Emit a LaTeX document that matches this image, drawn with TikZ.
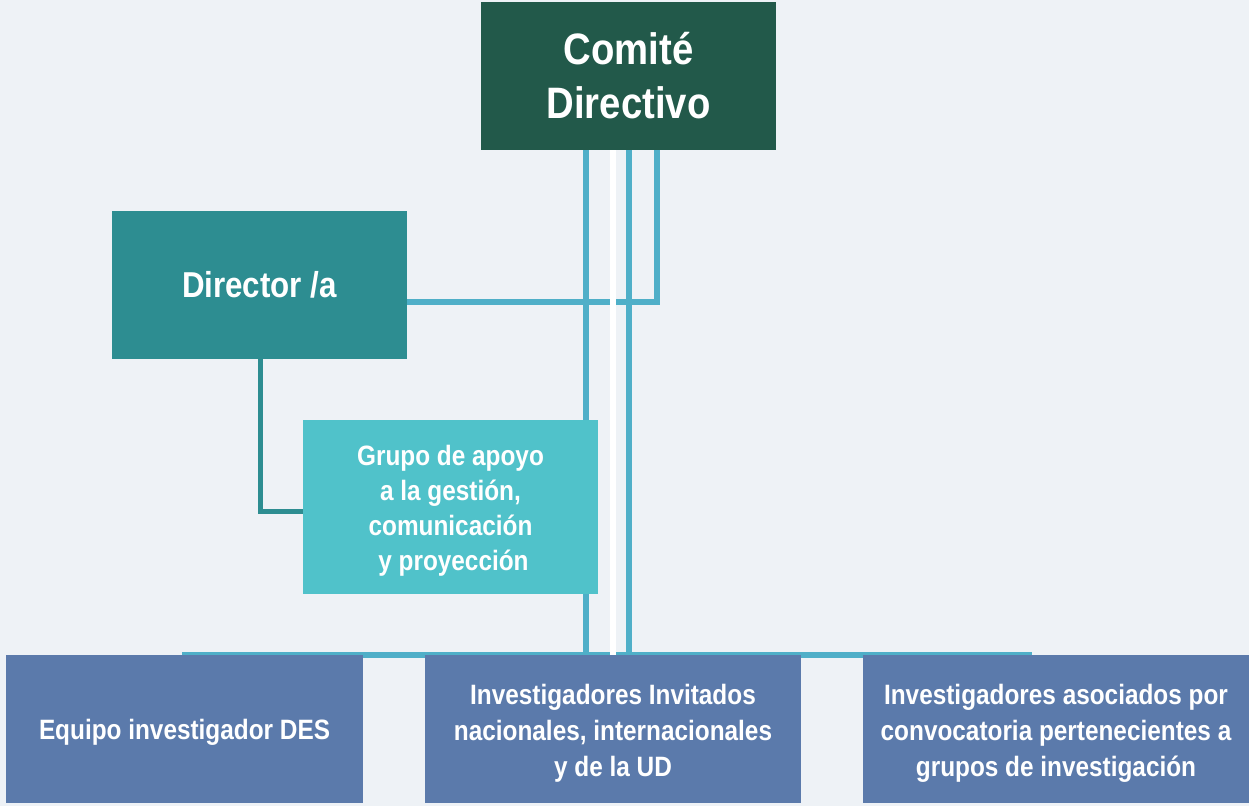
\documentclass[tikz,border=0pt]{standalone}
\usepackage{fontspec}
\setmainfont{Liberation Sans}[FakeStretch=0.87]
\pgfdeclarelayer{bg}
\pgfdeclarelayer{background}
\pgfsetlayers{bg,background,main}
\definecolor{bgcol}{HTML}{EEF2F6}
\definecolor{comitecol}{HTML}{22594A}
\definecolor{dircol}{HTML}{2D8D91}
\definecolor{grupocol}{HTML}{50C2CA}
\definecolor{botcol}{HTML}{5B7AAB}
\definecolor{conncol}{HTML}{4FAFC8}
\newcommand{\toppad}[1]{\rule{0pt}{#1}}
\tikzset{
  box/.style={inner sep=0pt, text=white, align=center, font=\bfseries},
  conn/.style={draw=conncol, line width=5.5pt},
  dconn/.style={draw=dircol, line width=5pt},
}
\begin{document}
\begin{tikzpicture}[x=1pt,y=-1pt]
\begin{pgfonlayer}{bg}
\fill[bgcol] (0,0) rectangle (1249,806);
\end{pgfonlayer}
\useasboundingbox (0,0) rectangle (1249,806);

\node[box, fill=comitecol, minimum width=295pt, minimum height=148pt,
      font=\bfseries\fontsize{44}{54}\selectfont] (comite) at (628.5,76) {Comité\\Directivo};
\node[box, fill=dircol, minimum width=295pt, minimum height=148pt,
      font=\bfseries\fontsize{36}{44}\selectfont] (director) at (259.5,285) {Director /a};
\node[box, fill=grupocol, minimum width=295pt, minimum height=174pt,
      font=\bfseries\fontsize{28}{35}\selectfont] (grupo) at (450.5,507)
      {\toppad{28pt}Grupo de apoyo\\a la gestión,\\comunicación\\\hspace*{6pt}y proyección};
\node[box, fill=botcol, minimum width=357pt, minimum height=148pt,
      font=\bfseries\fontsize{28}{36}\selectfont] (equipo) at (184.5,729) {\toppad{26pt}Equipo investigador DES};
\node[box, fill=botcol, minimum width=376pt, minimum height=148pt,
      font=\bfseries\fontsize{28}{36}\selectfont] (invitados) at (613,729)
      {\toppad{28pt}Investigadores Invitados\\nacionales, internacionales\\y de la UD};
\node[box, fill=botcol, minimum width=386pt, minimum height=148pt,
      font=\bfseries\fontsize{28}{36}\selectfont] (asociados) at (1056,729)
      {\toppad{28pt}Investigadores asociados por\\convocatoria pertenecientes a\\grupos de investigación};

\coordinate (b1) at (586,655);
\coordinate (b2) at (629,655);
\coordinate (busL) at (182,655);
\coordinate (busR) at (1032,655);
\coordinate (jd) at (657,302);
\coordinate (dg) at (260,511);

\begin{pgfonlayer}{background}
\draw[conn] (busL) -- (busR);
\draw[conn] (comite.south -| b1) -- (b1);
\draw[conn] (comite.south -| b2) -- (b2);
\draw[conn] (comite.south -| jd) -- (jd) -- (director.east |- jd);
\draw[dconn] (director.south -| dg) -- (dg) -- (grupo.west |- dg);
\fill[white] (610,150) rectangle (616,655);
\end{pgfonlayer}
\end{tikzpicture}
\end{document}
